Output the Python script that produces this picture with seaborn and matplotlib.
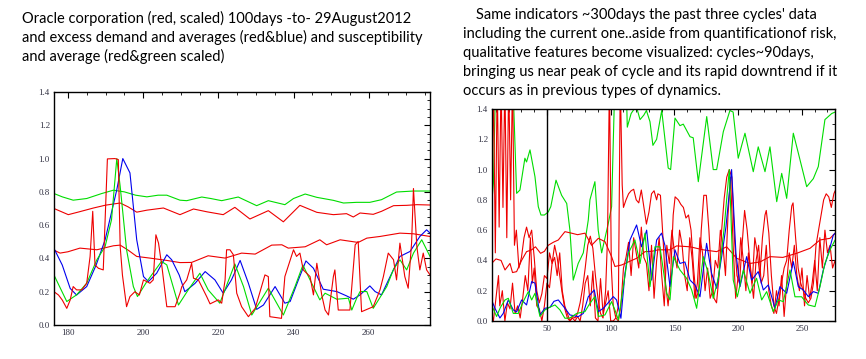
import numpy as np
import matplotlib
matplotlib.use("Agg")
import matplotlib.pyplot as plt
from matplotlib.ticker import MultipleLocator
import seaborn as sns

# ---- left panel: last 100 days ----
l_gavg_x = [176.3, 178.5, 181.4, 185, 189, 192.1, 195, 198, 201, 204, 206.3, 209.8, 211.6, 215.6, 218, 220.9,
            225.3, 230.2, 233.3, 237.7, 240, 243.1, 246.2, 250.6, 253.3, 256.8, 260.3, 263.4, 267.4, 271.9, 276.3]
l_gavg_y = [0.79, 0.77, 0.75, 0.76, 0.79, 0.81, 0.80, 0.78, 0.77, 0.78, 0.78, 0.75, 0.747, 0.769, 0.76, 0.747,
            0.769, 0.717, 0.747, 0.723, 0.76, 0.787, 0.767, 0.749, 0.733, 0.737, 0.737, 0.753, 0.799, 0.805, 0.805]

l_ravg1_x = [176.3, 180.1, 183, 186.8, 190, 193.9, 196, 198.3, 201, 205.4, 209.8, 213.4, 217, 221.3, 224.4, 228.4,
             233.3, 237.3, 241.7, 246.2, 250.6, 254.1, 255.9, 257.7, 261.2, 263.4, 266.6, 270.1, 272.8, 276.3]
l_ravg1_y = [0.70, 0.663, 0.68, 0.703, 0.72, 0.733, 0.71, 0.678, 0.69, 0.703, 0.663, 0.697, 0.68, 0.663, 0.707, 0.637,
             0.687, 0.620, 0.719, 0.677, 0.663, 0.669, 0.649, 0.673, 0.665, 0.683, 0.717, 0.719, 0.723, 0.721]

l_ravg2_x = [176.3, 177.9, 180, 183.2, 187.7, 192.1, 193.9, 196, 198.3, 201.8, 206.3, 209.8, 212.9, 217.3, 221.8,
             226.2, 229.8, 234.2, 236.9, 238.6, 243.1, 247.0, 248.8, 252.4, 257.2, 259.5, 263.0, 268.3, 271.9, 276.3]
l_ravg2_y = [0.45, 0.432, 0.44, 0.462, 0.452, 0.476, 0.48, 0.45, 0.412, 0.402, 0.388, 0.375, 0.376, 0.416, 0.402,
             0.432, 0.426, 0.48, 0.482, 0.462, 0.47, 0.512, 0.482, 0.512, 0.496, 0.522, 0.532, 0.552, 0.548, 0.532]

l_blue_x = [176.3, 178.5, 180.6, 182.3, 185.0, 187.5, 189.9, 193.0, 194.6, 196.5, 198.3, 200.1, 201.4, 203.6, 206.3,
            207.6, 209.6, 211.1, 213.8, 216.5, 219.1, 221.3, 223.5, 225.8, 228.0, 230.2, 232.0, 235.1, 237.7, 239.1,
            241.3, 243.3, 245.3, 247.9, 251.5, 254.1, 255.9, 257.7, 260.3, 261.7, 263.4, 265.7, 268.3, 271.0, 273.6,
            275.4, 276.3]
l_blue_y = [0.46, 0.36, 0.22, 0.18, 0.231, 0.36, 0.512, 0.813, 1.0, 0.914, 0.512, 0.291, 0.261, 0.311, 0.422,
            0.392, 0.30, 0.20, 0.25, 0.321, 0.271, 0.191, 0.271, 0.388, 0.251, 0.094, 0.120, 0.231, 0.131, 0.141,
            0.271, 0.385, 0.341, 0.215, 0.201, 0.175, 0.155, 0.181, 0.235, 0.201, 0.181, 0.291, 0.412, 0.442, 0.532,
            0.572, 0.552]

l_green_x = [176.3, 179.7, 182.3, 185.0, 187.7, 189.9, 191.6, 193.0, 193.9, 195.6, 197.4, 198.5, 201.0, 204.9, 206.3,
             209.4, 212.0, 215.1, 217.3, 220.4, 224.4, 226.7, 228.9, 233.3, 237.3, 240.4, 242.5, 244.4, 247.0, 248.4,
             251.5, 254.6, 255.5, 256.8, 257.7, 259.5, 261.2, 264.8, 266.6, 268.3, 270.1, 271.9, 274.1, 276.3]
l_green_y = [0.30, 0.141, 0.181, 0.251, 0.392, 0.472, 0.633, 1.0, 0.833, 0.452, 0.231, 0.171, 0.261, 0.382, 0.361,
             0.12, 0.211, 0.311, 0.211, 0.131, 0.367, 0.231, 0.06, 0.221, 0.06, 0.231, 0.36, 0.271, 0.151, 0.191,
             0.155, 0.161, 0.09, 0.161, 0.201, 0.201, 0.10, 0.231, 0.335, 0.392, 0.331, 0.432, 0.512, 0.412]

l_price_x = [176.3, 177.5, 178.5, 179.7, 180.6, 181.4, 182.3, 183.7, 185.0, 185.9, 186.6, 187.2, 188.1, 189.4, 190.5,
             192.5, 193.4, 193.9, 194.5, 195.6, 196.5, 197.8, 199, 200.1, 201.8, 202.7, 203.4, 204.1, 205.0, 206.3,
             208.5, 209.8, 210.3, 211.6, 212.9, 213.4, 214.7, 216.9, 217.8, 220.0, 220.9, 221.8, 222.2, 223.1, 224.0,
             224.9, 226.2, 228.0, 229.8, 231.5, 232.4, 233.3, 233.7, 236.8, 237.7, 240.0, 240.8, 241.7, 242.6, 244.4,
             245.3, 246.2, 247.5, 248.4, 249.3, 250.6, 251.0, 251.9, 255.0, 256.4, 257.2, 258.1, 261.2, 263.0, 263.9,
             265.2, 266.6, 267.4, 268.3, 269.6, 270.5, 271.4, 271.9, 272.8, 273.6, 274.5, 275.4, 276.3]
l_price_y = [0.20, 0.18, 0.15, 0.10, 0.15, 0.231, 0.211, 0.211, 0.251, 0.412, 0.683, 0.361, 0.341, 0.331, 0.998,
             1.0, 0.994, 0.472, 0.30, 0.11, 0.171, 0.20, 0.18, 0.271, 0.251, 0.271, 0.542, 0.492, 0.351, 0.11,
             0.11, 0.191, 0.231, 0.271, 0.371, 0.281, 0.271, 0.171, 0.127, 0.151, 0.131, 0.271, 0.452, 0.452, 0.422,
             0.191, 0.11, 0.05, 0.10, 0.231, 0.301, 0.291, 0.05, 0.04, 0.291, 0.452, 0.412, 0.432, 0.331, 0.291,
             0.181, 0.371, 0.181, 0.09, 0.06, 0.291, 0.331, 0.09, 0.09, 0.482, 0.502, 0.08, 0.11, 0.211, 0.291,
             0.432, 0.392, 0.271, 0.492, 0.291, 0.221, 0.492, 0.82, 0.472, 0.331, 0.432, 0.331, 0.301]

# ---- right panel: ~300 days ----
r_ghi_x = [6.6, 8.0, 9.8, 12, 16, 20, 23.6, 26.2, 28.8, 32.7, 34, 36.7, 40.6, 43.2, 45.3, 48, 51, 53, 57.1, 61.5,
           65.5, 68, 70.6, 74.5, 78.5, 82.4, 83.7, 87.6, 90.2, 92.9, 98.1, 100.7, 103.3, 108, 112.5, 113, 116, 120,
           123, 126, 128, 130.8, 133.1, 136, 140.0, 145.1, 147.0, 150.4, 154.3, 156.9, 162.2, 164.7, 168.7, 175.3,
           180.4, 183.1, 188.3, 193.5, 196, 200.0, 205.3, 211.8, 215.7, 221.0, 224.9, 230.2, 234.1, 238.0, 243.2,
           247.1, 253.7, 258.9, 262.8, 268.0, 273.3, 276]
r_ghi_y = [0.77, 0.91, 1.6, 1.7, 1.8, 1.7, 1.5, 0.843, 0.865, 1.075, 1.05, 1.13, 0.953, 0.755, 0.70, 0.70, 0.72,
           0.755, 0.93, 0.83, 0.776, 0.60, 0.27, 0.38, 0.45, 0.667, 0.80, 0.92, 0.6, 0.45, 0.645, 0.755, 1.6, 1.8,
           1.45, 1.28, 1.37, 1.42, 1.33, 1.36, 1.39, 1.316, 1.16, 1.2, 1.39, 1.01, 1.0, 1.34, 1.29, 1.30, 1.217,
           1.21, 0.92, 1.35, 1.0, 1.0, 1.25, 1.39, 1.38, 1.075, 1.24, 0.986, 1.15, 0.986, 1.15, 0.788, 0.975, 0.81,
           1.24, 1.11, 0.887, 0.94, 1.02, 1.33, 1.37, 1.38]

r_blue_x = [6.6, 9.2, 13.1, 15.7, 19.7, 23.6, 26.2, 30.1, 34.0, 38.0, 40.6, 44.5, 48.4, 52.3, 55.5, 58.9, 64.1, 68.0,
            74.6, 78.5, 82.4, 87.1, 90.3, 94.2, 98, 102.0, 104.6, 108.0, 111.2, 115.1, 120.3, 124.2, 128.2, 132.1,
            136.0, 139.9, 142.5, 146.5, 150.4, 154.3, 158.2, 162.2, 166.1, 170.0, 175.2, 179.1, 183.1, 187.0, 190.4,
            194.8, 198.2, 201.4, 206.6, 210.5, 215.7, 219.7, 223.6, 228.8, 232.7, 238.0, 243.2, 247.1, 251.0, 255.0,
            258.9, 262.8, 266.7, 270.7, 274.6, 276]
r_blue_y = [0.139, 0.084, 0.02, 0.05, 0.139, 0.073, 0.06, 0.139, 0.106, 0.26, 0.25, 0.04, 0.084, 0.09, 0.13, 0.139,
            0.084, 0.04, 0.029, 0.05, 0.16, 0.205, 0.062, 0.084, 0.12, 0.161, 0.139, 0.018, 0.315, 0.535, 0.634,
            0.49, 0.60, 0.27, 0.535, 0.58, 0.50, 0.227, 0.47, 0.38, 0.39, 0.27, 0.238, 0.16, 0.513, 0.315, 0.216,
            0.425, 0.623, 1.0, 0.447, 0.227, 0.425, 0.27, 0.326, 0.205, 0.238, 0.084, 0.227, 0.183, 0.392, 0.227,
            0.205, 0.161, 0.194, 0.183, 0.337, 0.447, 0.568, 0.58]

r_glo_x = [6.6, 10.5, 13.5, 17.1, 19.7, 23.6, 27.5, 31.4, 35.4, 38.0, 40.6, 44.5, 48.4, 52, 56.3, 60.2, 64.1, 68,
           73.3, 79.8, 83.7, 87.6, 90.3, 95.5, 100.7, 103.3, 106.0, 109.9, 113.8, 119.0, 123.0, 126.9, 130.8, 134.7,
           138.6, 143.9, 146.5, 149.1, 154.3, 159.5, 163.5, 167.4, 172.6, 176.5, 180.4, 184.4, 188.8, 193.0, 196.1,
           199.3, 204.0, 209.2, 214.4, 218.4, 222.3, 227.5, 231.4, 235.4, 240.6, 244.5, 249.7, 254.9, 260.2, 264.1,
           268.0, 272.0, 276]
r_glo_y = [0.106, 0.03, 0.09, 0.139, 0.15, 0.05, 0.05, 0.128, 0.194, 0.139, 0.183, 0.03, 0.073, 0.09, 0.106, 0.073,
           0.018, 0.02, 0.05, 0.062, 0.117, 0.161, 0.03, 0.04, 0.128, 0.073, 0.007, 0.227, 0.447, 0.535, 0.38, 0.58,
           0.227, 0.49, 0.49, 0.183, 0.139, 0.425, 0.337, 0.282, 0.205, 0.084, 0.425, 0.315, 0.15, 0.282, 0.60, 1.0,
           0.27, 0.16, 0.337, 0.183, 0.282, 0.139, 0.194, 0.062, 0.139, 0.128, 0.337, 0.16, 0.16, 0.106, 0.095,
           0.227, 0.38, 0.47, 0.535]

r_ravg_x = [6.6, 10, 14, 17.1, 21.0, 23, 26.2, 30.1, 34.0, 38, 41, 45, 48, 51, 55, 58.9, 64.1, 69.3, 74, 79.8, 85.0,
            90.3, 95.5, 100.7, 103.3, 108.6, 113.8, 120.3, 126.9, 132, 137.3, 146.5, 151.7, 162.2, 172.6, 183.1,
            190.9, 198.8, 209.2, 217.1, 224.9, 235, 245.8, 256.3, 264.1, 272.0, 276]
r_ravg_y = [0.38, 0.41, 0.40, 0.337, 0.38, 0.32, 0.326, 0.40, 0.458, 0.47, 0.49, 0.447, 0.46, 0.50, 0.52, 0.535,
            0.59, 0.58, 0.57, 0.58, 0.50, 0.546, 0.524, 0.425, 0.36, 0.37, 0.39, 0.414, 0.458, 0.46, 0.47, 0.47,
            0.496, 0.49, 0.47, 0.458, 0.49, 0.414, 0.38, 0.39, 0.425, 0.42, 0.447, 0.48, 0.535, 0.546, 0.58]

r_rosc_x = [6.6, 8, 9.5, 11, 12.5, 14, 15.5, 17, 18.5, 20, 21.5, 23, 24.5, 26, 28, 30, 32, 34, 36, 38, 40, 42, 44,
            46, 48, 50, 52, 54, 56, 58, 60, 62, 64, 66, 68, 70, 72, 74, 76, 78, 80, 82, 84, 86, 88, 90, 92, 94, 96,
            97.5, 99, 100.5, 102, 104, 106, 107.5, 109, 110, 112, 114, 116, 118, 120, 122, 124, 126, 128, 130, 132,
            134, 136, 137, 139, 141, 143, 145, 147, 149, 150.5, 153, 155, 157, 159, 161, 163, 165, 167, 169, 171,
            173, 175, 177, 179, 181, 183, 185, 187, 189, 191, 193, 195, 197, 199, 201, 203, 205, 207, 209, 211,
            213, 215, 217, 219, 221, 222, 224, 226, 228, 230, 232, 234, 236, 238, 240, 242, 243, 245, 247, 249,
            251, 253, 255, 257, 259, 261, 263, 265, 267, 269, 271, 273, 275, 276]
r_rosc_y = [0.7, 1.6, 0.45, 1.6, 0.62, 1.6, 0.75, 1.6, 0.55, 1.6, 0.8, 1.6, 0.5, 0.6, 0.35, 0.42, 0.55, 0.62, 0.55,
            0.6, 0.42, 0.2, 0.12, 0.18, 0.3, 0.28, 0.45, 0.38, 0.5, 0.42, 0.3, 0.18, 0.08, 0.02, 0.0, 0.03, 0.02,
            0.05, 0.12, 0.22, 0.35, 0.5, 0.56, 0.48, 0.3, 0.15, 0.05, 0.02, 0.2, 0.55, 1.6, 0.35, 0.1, 0.02, 0.1,
            1.6, 0.9, 0.75, 0.8, 0.84, 0.86, 0.87, 0.8, 0.78, 0.865, 0.75, 0.64, 0.72, 0.84, 0.86, 0.8, 0.84, 0.83,
            0.55, 0.25, 0.1, 0.3, 0.7, 0.82, 0.8, 0.77, 0.75, 0.68, 0.7, 0.6, 0.35, 0.15, 0.2, 0.6, 0.83, 0.83, 0.6,
            0.3, 0.15, 0.12, 0.3, 0.6, 0.81, 0.95, 1.0, 0.95, 0.55, 0.3, 0.25, 0.5, 0.73, 0.6, 0.4, 0.25, 0.55,
            0.45, 0.3, 0.55, 0.7, 0.73, 0.58, 0.3, 0.1, 0.05, 0.15, 0.25, 0.35, 0.4, 0.6, 0.76, 0.78, 0.55, 0.35,
            0.25, 0.2, 0.15, 0.12, 0.15, 0.25, 0.5, 0.6, 0.7, 0.8, 0.84, 0.82, 0.75, 0.84, 0.86]

r_price_x = [6.6, 8, 10, 12, 13, 15, 17, 19, 21, 23, 25, 27, 29, 31, 33, 35, 37, 38.5, 40, 42, 44, 46, 48, 50, 52,
             54, 56, 58, 60, 62, 64, 66, 68, 70, 72, 74, 76, 78, 80, 82, 84, 86, 88, 90, 92, 94, 96, 98, 100, 102,
             104, 106, 108, 110, 112, 114, 116, 118, 120, 122, 124, 126, 128, 130, 132, 134, 136, 138, 140, 142,
             144, 146, 148, 150, 152, 154, 156, 158, 160, 162, 164, 166, 168, 170, 172, 174, 176, 178, 180, 182,
             184, 186, 188, 190, 192, 194, 196, 198, 200, 202, 204, 206, 208, 210, 212, 214, 216, 218, 220, 222,
             224, 226, 228, 230, 232, 234, 236, 238, 240, 242, 244, 246, 248, 250, 252, 254, 256, 258, 260, 262,
             264, 266, 268, 270, 272, 274, 276]
r_price_y = [0.05, 0.0, 0.15, 0.3, 0.1, 0.2, 0.0, 0.12, 0.08, 0.25, 0.05, 0.1, 0.02, 0.15, 0.3, 0.2, 0.55, 0.25,
             0.35, 0.1, 0.08, 0.0, 0.1, 0.25, 0.22, 0.38, 0.42, 0.3, 0.45, 0.2, 0.1, 0.05, 0.0, 0.02, 0.0, 0.03, 0.0,
             0.1, 0.25, 0.3, 0.1, 0.33, 0.02, 0.0, 0.28, 0.05, 0.12, 0.2, 0.0, 0.0, 0.02, 0.0, 0.1, 0.35, 0.42, 0.52,
             0.3, 0.55, 0.45, 0.35, 0.62, 0.42, 0.38, 0.2, 0.5, 0.15, 0.4, 0.55, 0.3, 0.1, 0.5, 0.38, 0.6, 0.45,
             0.35, 0.6, 0.5, 0.3, 0.2, 0.55, 0.4, 0.15, 0.25, 0.55, 0.45, 0.2, 0.35, 0.15, 0.2, 0.4, 0.35, 0.6, 0.5,
             0.3, 0.7, 0.95, 0.5, 0.15, 0.3, 0.55, 0.4, 0.2, 0.45, 0.3, 0.15, 0.4, 0.5, 0.25, 0.3, 0.5, 0.2, 0.1,
             0.05, 0.2, 0.1, 0.3, 0.03, 0.25, 0.45, 0.35, 0.5, 0.3, 0.2, 0.35, 0.1, 0.3, 0.15, 0.25, 0.4, 0.2, 0.55,
             0.35, 0.6, 0.45, 0.5, 0.35, 0.4]

left_text = ["Oracle corporation (red, scaled) 100days -to- 29August2012",
             "and excess demand and averages (red&blue) and susceptibility",
             "and average (red&green scaled)"]
right_text = ["Same indicators ~300days the past three cycles' data",
              "including the current one..aside from quantificationof risk,",
              "qualitative features become visualized: cycles~90days,",
              "bringing us near peak of cycle and its rapid downtrend if it",
              "occurs as in previous types of dynamics."]

RED, BLUE, GREEN = "#ee0000", "#0000ee", "#00dd00"

sns.set_style("white")
plt.rcParams["font.family"] = ["Lato", "DejaVu Sans"]

fig = plt.figure(figsize=(8.66, 3.59), dpi=100)
axL = fig.add_axes([54 / 866, 1 - 325 / 359, 376 / 866, 233 / 359])
axR = fig.add_axes([492 / 866, 1 - 321 / 359, 343 / 866, 212 / 359])


def draw(ax, series):
    for x, y, c in series:
        sns.lineplot(x=x, y=y, ax=ax, color=c, lw=0.8, estimator=None, sort=False, legend=False)


draw(axL, [(l_gavg_x, l_gavg_y, GREEN), (l_ravg1_x, l_ravg1_y, RED), (l_ravg2_x, l_ravg2_y, RED),
           (l_blue_x, l_blue_y, BLUE), (l_green_x, l_green_y, GREEN), (l_price_x, l_price_y, RED)])
draw(axR, [(r_ghi_x, r_ghi_y, GREEN), (r_ravg_x, r_ravg_y, RED), (r_rosc_x, r_rosc_y, RED),
           (r_price_x, r_price_y, RED), (r_blue_x, r_blue_y, BLUE), (r_glo_x, r_glo_y, GREEN)])
axR.axvline(50, color="black", lw=1)

axL.set_xlim(176.3, 276.3)
axL.xaxis.set_major_locator(MultipleLocator(20))
axL.xaxis.set_minor_locator(MultipleLocator(5))
axL.yaxis.set_minor_locator(MultipleLocator(0.05))
axR.set_xlim(6.9, 275.9)
axR.xaxis.set_major_locator(MultipleLocator(50))
axR.xaxis.set_minor_locator(MultipleLocator(10))
axR.yaxis.set_minor_locator(MultipleLocator(0.1))

for ax in (axL, axR):
    ax.set_ylim(0, 1.4)
    ax.yaxis.set_major_locator(MultipleLocator(0.2))
    ax.yaxis.set_major_formatter(matplotlib.ticker.FormatStrFormatter("%.1f"))
    ax.set_xlabel("")
    ax.set_ylabel("")
    for s in ax.spines.values():
        s.set_color("black")
        s.set_linewidth(1.0)
    ax.tick_params(which="both", direction="in", top=True, right=True, color="black")
    ax.tick_params(which="major", length=4, width=0.8, labelsize=6.5, labelcolor="#333344", pad=3)
    ax.tick_params(which="minor", length=2, width=0.6)
    for lab in ax.get_xticklabels() + ax.get_yticklabels():
        lab.set_family("Liberation Serif")

for i, line in enumerate(left_text):
    fig.text(22 / 866, 1 - (18 + 19 * i) / 359, line, fontsize=10.5, va="center", ha="left", color="black")
for i, line in enumerate(right_text):
    x0 = 476 if i == 0 else 463
    fig.text(x0 / 866, 1 - (15 + 19 * i) / 359, line, fontsize=10.5, va="center", ha="left", color="black")

fig.savefig("out.png", dpi=100, facecolor="white")
